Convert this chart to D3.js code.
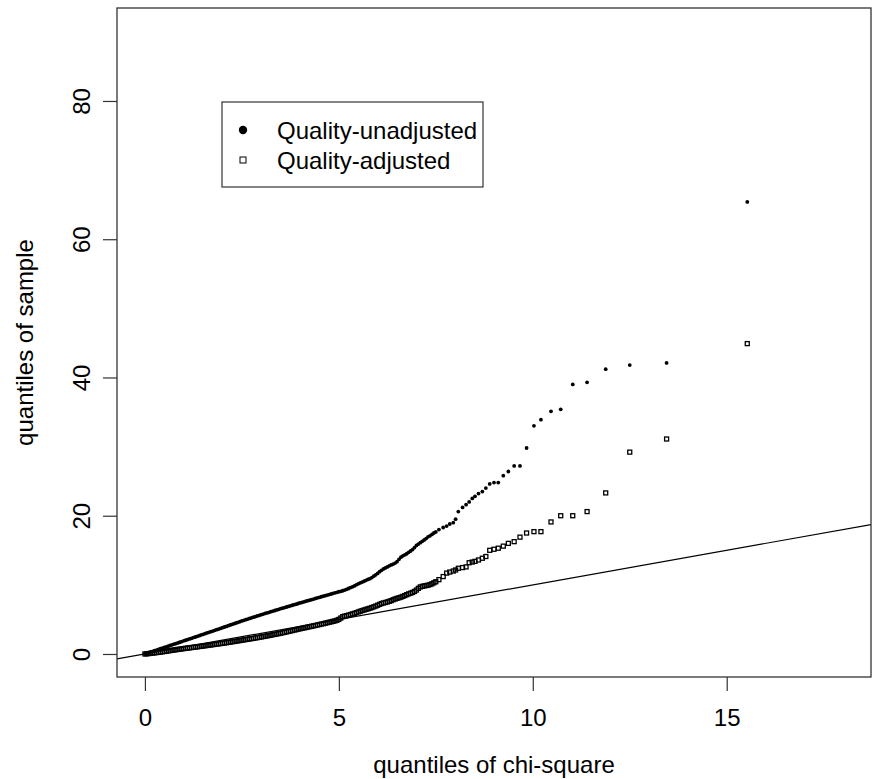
<!DOCTYPE html>
<html>
<head>
<meta charset="utf-8">
<script src="https://cdn.jsdelivr.net/npm/d3@7/dist/d3.min.js"></script>
<style>
  body { margin: 0; background: #fff; }
  svg { display: block; font-family: "Liberation Sans", Arial, Helvetica, sans-serif; }
</style>
</head>
<body>
<div id="chart"></div>
<script>
// chi-square quantiles (x) shared by both series
var chiQuantiles = [
  0, 0.05, 0.1, 0.15, 0.2, 0.25, 0.3, 0.35, 0.4, 0.45, 0.5, 0.55, 0.6, 0.65, 0.7, 0.75, 0.8, 0.85, 0.9, 0.95,
  1, 1.05, 1.1, 1.15, 1.2, 1.25, 1.3, 1.35, 1.4, 1.45, 1.5, 1.55, 1.6, 1.65, 1.7, 1.75, 1.8, 1.85, 1.9, 1.95,
  2, 2.05, 2.1, 2.15, 2.2, 2.25, 2.3, 2.35, 2.4, 2.45, 2.5, 2.55, 2.6, 2.65, 2.7, 2.75, 2.8, 2.85, 2.9, 2.95,
  3, 3.05, 3.1, 3.15, 3.2, 3.25, 3.3, 3.35, 3.4, 3.45, 3.5, 3.55, 3.6, 3.65, 3.7, 3.75, 3.8, 3.85, 3.9, 3.95,
  4, 4.05, 4.1, 4.15, 4.2, 4.25, 4.3, 4.35, 4.4, 4.45, 4.5, 4.55, 4.6, 4.65, 4.7, 4.75, 4.8, 4.85, 4.9, 4.95,
  5, 5.05, 5.1, 5.15, 5.2, 5.25, 5.3, 5.35, 5.4, 5.45, 5.5, 5.55, 5.6, 5.65, 5.7, 5.75, 5.8, 5.85, 5.9, 5.95,
  6, 6.05, 6.1, 6.15, 6.2, 6.25, 6.3, 6.35, 6.4, 6.45, 6.5, 6.55, 6.6, 6.65, 6.7, 6.75, 6.8, 6.85, 6.9, 6.95,
  7, 7.05, 7.1, 7.15, 7.2, 7.25, 7.3, 7.35, 7.4, 7.45, 7.5,
  7.58, 7.69, 7.78, 7.86, 7.95, 8.01, 8.08, 8.19, 8.28, 8.36, 8.44, 8.51, 8.6, 8.7,
  8.79, 8.89, 9, 9.11, 9.24, 9.37, 9.52, 9.67, 9.84, 10.03, 10.21, 10.47, 10.72, 11.03, 11.4, 11.88, 12.5, 13.45, 15.53
]

// sample quantiles, quality-unadjusted
var unadjusted = [
  0.05, 0.12, 0.2, 0.3, 0.38, 0.48, 0.57, 0.66, 0.76, 0.85, 0.95, 1.04, 1.13, 1.23, 1.32, 1.42, 1.51, 1.6, 1.7, 1.8,
  1.9, 1.99, 2.08, 2.18, 2.27, 2.37, 2.46, 2.56, 2.65, 2.75, 2.85, 2.94, 3.04, 3.13, 3.23, 3.32, 3.42, 3.51, 3.61, 3.7,
  3.8, 3.9, 3.99, 4.09, 4.19, 4.29, 4.38, 4.48, 4.58, 4.68, 4.78, 4.87, 4.96, 5.05, 5.14, 5.23, 5.32, 5.41, 5.5, 5.59,
  5.68, 5.77, 5.86, 5.94, 6.03, 6.12, 6.2, 6.29, 6.38, 6.46, 6.55, 6.63, 6.71, 6.8, 6.88, 6.96, 7.05, 7.13, 7.21, 7.3,
  7.38, 7.46, 7.54, 7.63, 7.71, 7.79, 7.87, 7.95, 8.04, 8.12, 8.2, 8.28, 8.36, 8.44, 8.52, 8.6, 8.68, 8.76, 8.84, 8.92,
  9, 9.07, 9.15, 9.25, 9.35, 9.47, 9.6, 9.72, 9.85, 10, 10.15, 10.28, 10.4, 10.52, 10.65, 10.78, 10.9, 11.05, 11.25, 11.45,
  11.65, 11.9, 12.1, 12.3, 12.45, 12.6, 12.75, 12.88, 13, 13.15, 13.35, 13.7, 14, 14.2, 14.35, 14.5, 14.7, 14.9, 15.1, 15.4,
  15.7, 15.9, 16.1, 16.3, 16.5, 16.7, 16.95, 17.1, 17.3, 17.5, 17.65,
  18, 18.3, 18.5, 18.8, 19, 19.5, 20.6, 21.2, 21.6, 22, 22.5, 22.8, 23.2, 23.5,
  24, 24.6, 24.8, 24.8, 25.8, 26.4, 27.2, 27.2, 29.8, 33, 33.9, 35.1, 35.4, 39, 39.3, 41.2, 41.8, 42.1, 65.4
]

// sample quantiles, quality-adjusted
var adjusted = [
  0, 0.03, 0.06, 0.1, 0.13, 0.17, 0.2, 0.24, 0.28, 0.32, 0.36, 0.4, 0.45, 0.49, 0.53, 0.58, 0.62, 0.66, 0.7, 0.74,
  0.78, 0.82, 0.86, 0.89, 0.93, 0.97, 1, 1.04, 1.08, 1.11, 1.15, 1.19, 1.23, 1.27, 1.31, 1.35, 1.39, 1.43, 1.47, 1.51,
  1.55, 1.59, 1.63, 1.68, 1.72, 1.77, 1.81, 1.86, 1.9, 1.95, 2, 2.04, 2.09, 2.13, 2.18, 2.22, 2.27, 2.32, 2.37, 2.42,
  2.47, 2.52, 2.57, 2.62, 2.68, 2.73, 2.79, 2.84, 2.9, 2.95, 3.01, 3.07, 3.13, 3.2, 3.26, 3.33, 3.39, 3.46, 3.52, 3.59,
  3.65, 3.71, 3.77, 3.83, 3.89, 3.95, 4.01, 4.07, 4.13, 4.2, 4.26, 4.33, 4.39, 4.46, 4.52, 4.59, 4.65, 4.72, 4.79, 4.88,
  5, 5.2, 5.4, 5.48, 5.55, 5.62, 5.7, 5.8, 5.88, 5.98, 6.08, 6.18, 6.28, 6.36, 6.45, 6.53, 6.62, 6.72, 6.82, 6.93,
  7.05, 7.18, 7.3, 7.38, 7.45, 7.53, 7.62, 7.72, 7.85, 7.95, 8.05, 8.13, 8.22, 8.33, 8.45, 8.58, 8.7, 8.8, 8.9, 9.05,
  9.25, 9.5, 9.7, 9.78, 9.85, 9.9, 9.95, 10.05, 10.15, 10.3, 10.45,
  10.75, 11.2, 11.7, 11.85, 12, 12.15, 12.4, 12.5, 12.6, 13.2, 13.3, 13.4, 13.6, 13.85,
  14.1, 15, 15.15, 15.3, 15.6, 16, 16.25, 16.9, 17.5, 17.7, 17.7, 19.1, 20, 20, 20.6, 23.3, 29.2, 31.1, 44.9
]

var xTicks = [0, 5, 10, 15]
var yTicks = [0, 20, 40, 60, 80]
var legendLabels = ["Quality-unadjusted", "Quality-adjusted"]

var width = 872, height = 779
var plot = { left: 117, top: 8, right: 871, bottom: 677 }

var svg = d3.select("#chart").append("svg")
  .attr("width", width)
  .attr("height", height)

// R-style limits: xlim 0..18, ylim 0..90 with 4% padding
var xScale = d3.scaleLinear().domain([-0.72, 18.72]).range([plot.left, plot.right])
var yScale = d3.scaleLinear().domain([-3.33, 93.45]).range([plot.bottom, plot.top])

svg.append("clipPath").attr("id", "clip")
  .append("rect")
  .attr("x", plot.left).attr("y", plot.top)
  .attr("width", plot.right - plot.left)
  .attr("height", plot.bottom - plot.top)

var points = chiQuantiles.map(function (q, i) {
  return { x: q, u: unadjusted[i], a: adjusted[i] }
})

// reference line y = x
svg.append("line")
  .attr("clip-path", "url(#clip)")
  .attr("x1", xScale(-0.72)).attr("y1", yScale(-0.72))
  .attr("x2", xScale(18.72)).attr("y2", yScale(18.72))
  .attr("stroke", "#000")
  .attr("stroke-width", 1.2)

// quality-adjusted: open squares
var sq = 4
svg.append("g").selectAll("rect")
  .data(points)
  .enter().append("rect")
  .attr("x", function (d) { return xScale(d.x) - sq / 2 })
  .attr("y", function (d) { return yScale(d.a) - sq / 2 })
  .attr("width", sq)
  .attr("height", sq)
  .attr("fill", "none")
  .attr("stroke", "#000")
  .attr("stroke-width", 1.3)

// quality-unadjusted: filled dots
svg.append("g").selectAll("circle")
  .data(points)
  .enter().append("circle")
  .attr("cx", function (d) { return xScale(d.x) })
  .attr("cy", function (d) { return yScale(d.u) })
  .attr("r", 1.9)
  .attr("fill", "#000")

// box
svg.append("rect")
  .attr("x", plot.left).attr("y", plot.top)
  .attr("width", plot.right - plot.left)
  .attr("height", plot.bottom - plot.top)
  .attr("fill", "none")
  .attr("stroke", "#333")
  .attr("stroke-width", 1.3)

// axes
var xAxis = d3.axisBottom(xScale).tickValues(xTicks).tickSize(14).tickPadding(18)
var gx = svg.append("g")
  .attr("transform", "translate(0," + plot.bottom + ")")
  .call(xAxis)
gx.select(".domain").remove()
gx.selectAll("line").attr("stroke", "#333").attr("stroke-width", 1.2)
gx.selectAll("text").attr("font-size", 24).attr("fill", "#000")

var yAxis = d3.axisLeft(yScale).tickValues(yTicks).tickSize(14)
var gy = svg.append("g")
  .attr("transform", "translate(" + plot.left + ",0)")
  .call(yAxis)
gy.select(".domain").remove()
gy.selectAll("line").attr("stroke", "#333").attr("stroke-width", 1.2)
gy.selectAll("text")
  .attr("font-size", 24)
  .attr("fill", "#000")
  .attr("x", null).attr("dy", null)
  .attr("text-anchor", "middle")
  .attr("transform", "translate(-27,0) rotate(-90)")

// axis titles
svg.append("text")
  .attr("x", (plot.left + plot.right) / 2)
  .attr("y", 773)
  .attr("text-anchor", "middle")
  .attr("font-size", 24)
  .text("quantiles of chi-square")

svg.append("text")
  .attr("transform", "translate(33," + ((plot.top + plot.bottom) / 2) + ") rotate(-90)")
  .attr("text-anchor", "middle")
  .attr("font-size", 24)
  .text("quantiles of sample")

// legend
var legend = svg.append("g")
legend.append("rect")
  .attr("x", 222).attr("y", 102)
  .attr("width", 261).attr("height", 85)
  .attr("fill", "#fff")
  .attr("stroke", "#333")
  .attr("stroke-width", 1.2)

legend.append("circle")
  .attr("cx", 243).attr("cy", 130).attr("r", 4.2)
  .attr("fill", "#000")
legend.append("rect")
  .attr("x", 240).attr("y", 157).attr("width", 6).attr("height", 6)
  .attr("fill", "none").attr("stroke", "#000").attr("stroke-width", 1)

legend.selectAll("text.lab")
  .data(legendLabels)
  .enter().append("text")
  .attr("class", "lab")
  .attr("x", 277)
  .attr("y", function (d, i) { return 139 + i * 30 })
  .attr("font-size", 24)
  .text(function (d) { return d })
</script>
</body>
</html>
